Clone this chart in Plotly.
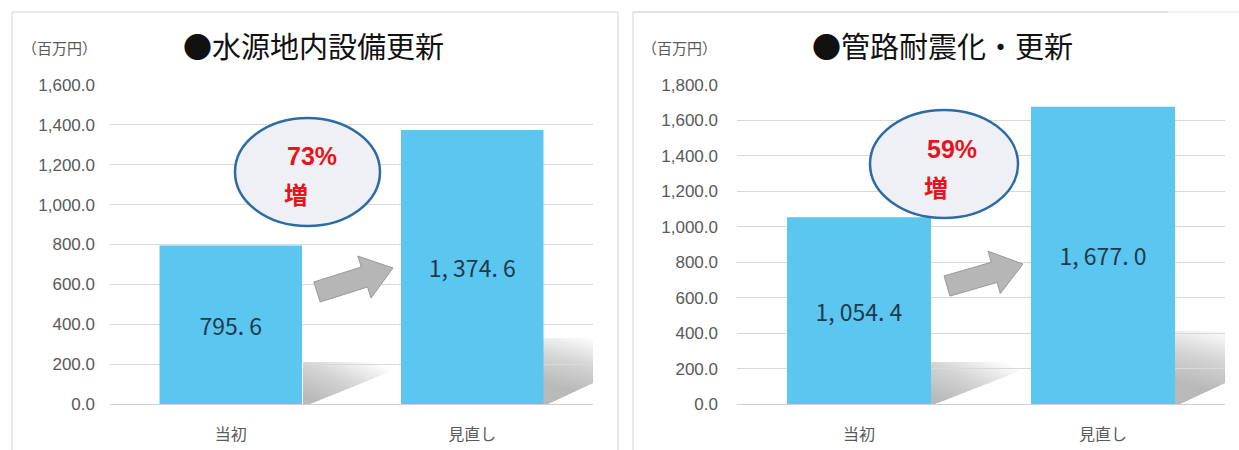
import math
import plotly.graph_objects as go

W, H = 1239, 450

# ---------------- data ----------------
categories = ["当初", "見直し"]
water_values = [795.6, 1374.6]      # ●水源地内設備更新
pipe_values = [1054.4, 1677.0]      # ●管路耐震化・更新
titles = ["●水源地内設備更新", "●管路耐震化・更新"]
unit_label = "（百万円）"
y_max = [1600, 1800]
y_dtick = 200
increase_word = "増"

BAR = "#5BC6F0"
GRID = "#D9D9D9"
TICK = "#595959"
JP = "Noto Sans CJK JP"


def jp_label(v):
    return f"{v:,.1f}".replace(",", ", ").replace(".", ". ")


def px(x):
    return x / W


def py(y):
    return 1 - y / H


fig = go.Figure()

series = [water_values, pipe_values]
for i, vals in enumerate(series):
    ax = "" if i == 0 else str(i + 1)
    fig.add_trace(go.Bar(
        x=categories, y=vals,
        text=[jp_label(v) for v in vals],
        textposition="inside", insidetextanchor="middle", textangle=0,
        textfont=dict(family=JP, size=23, color="#1F3A4D"),
        marker=dict(color=BAR, line=dict(width=0)),
        width=0.59, xaxis="x" + ax, yaxis="y" + ax,
        hoverinfo="skip", showlegend=False, cliponaxis=False,
    ))

ydom = [py(404), py(85)]
xdoms = [[px(110), px(593)], [px(737), px(1225)]]
standoffs = [14, 18]

layout = dict(
    width=W, height=H, margin=dict(l=0, r=0, t=0, b=0, pad=0, autoexpand=False),
    paper_bgcolor="white", plot_bgcolor="rgba(0,0,0,0)",
    showlegend=False,
)
for i in range(2):
    ax = "" if i == 0 else str(i + 1)
    layout["xaxis" + ax] = dict(
        domain=xdoms[i], anchor="y" + ax, type="category", automargin=False,
        showline=True, linecolor="#D0D0D0", linewidth=1,
        showgrid=False, zeroline=False, ticks="",
        tickfont=dict(family=JP, size=16, color=TICK),
        ticklabelstandoff=16, fixedrange=True,
    )
    layout["yaxis" + ax] = dict(
        domain=ydom, anchor="x" + ax, range=[0, y_max[i]], automargin=False,
        tick0=0, dtick=y_dtick, tickformat=",.1f",
        showgrid=True, gridcolor=GRID, gridwidth=1,
        zeroline=False, showline=False, ticks="",
        tickfont=dict(family="Liberation Sans", size=17, color=TICK),
        ticklabelstandoff=standoffs[i], fixedrange=True,
    )
fig.update_layout(**layout)

shapes = []
annotations = []


# ---------- panel frames ----------
def hline(x0, x1, y, color, w=1):
    shapes.append(dict(type="line", xref="paper", yref="paper",
                       x0=px(x0), x1=px(x1), y0=py(y), y1=py(y),
                       line=dict(color=color, width=w), layer="below"))


def vline(x, y0, y1, color, w=1):
    shapes.append(dict(type="line", xref="paper", yref="paper",
                       x0=px(x), x1=px(x), y0=py(y0), y1=py(y1),
                       line=dict(color=color, width=w), layer="below"))


hline(12, 618, 12, "#D4D4D4")
vline(12, 12, 450, "#D4D4D4")
vline(618, 12, 450, "#D4D4D4")
hline(633, 1168, 12, "#C4C4C4")
hline(1168, 1239, 12, "#E6E6E6")
vline(633, 12, 450, "#D4D4D4")


# ---------- shadows (layered half-plane clips to mimic a soft gradient) ----------
def clip_half(poly, d, t):
    """keep points p with p.d >= t"""
    out = []
    n = len(poly)
    for k in range(n):
        c = poly[k]
        nx_ = poly[(k + 1) % n]
        fc = c[0] * d[0] + c[1] * d[1] - t
        fn = nx_[0] * d[0] + nx_[1] * d[1] - t
        if fc >= 0:
            out.append(c)
        if (fc >= 0) != (fn >= 0):
            s = fc / (fc - fn)
            out.append((c[0] + s * (nx_[0] - c[0]), c[1] + s * (nx_[1] - c[1])))
    return out


def path_of(poly):
    return "M " + " L ".join(f"{px(x):.5f},{py(y):.5f}" for x, y in poly) + " Z"


def shadow(poly, d, layers=28, total=0.55, reach=0.9):
    L = math.hypot(*d)
    d = (d[0] / L, d[1] / L)
    vals = [p[0] * d[0] + p[1] * d[1] for p in poly]
    lo, hi = min(vals), max(vals)
    a = 1 - (1 - total) ** (1 / layers)
    for k in range(layers):
        t = lo + (hi - lo) * reach * k / layers
        sub = clip_half(poly, d, t)
        if len(sub) >= 3:
            shapes.append(dict(type="path", xref="paper", yref="paper",
                               path=path_of(sub),
                               fillcolor=f"rgba(120,120,120,{a:.4f})",
                               line=dict(width=0), layer="below"))


shadow([(303, 362), (375, 362), (392, 371), (310, 404), (303, 404)], (-0.45, 1), total=0.5)
shadow([(543, 338), (593, 338), (593, 383), (548, 404), (543, 404)], (-0.25, 1), total=0.5, reach=0.75)
shadow([(928, 362), (1005, 362), (1020, 371), (935, 404), (928, 404)], (-0.45, 1), total=0.5)
shadow([(1175, 331), (1225, 331), (1225, 383), (1180, 404), (1175, 404)], (-0.25, 1), total=0.5, reach=0.75)


# ---------- block arrows ----------
def arrow(tail, tip, w1=10.5, w2=22, head=30):
    dx, dy = tip[0] - tail[0], tip[1] - tail[1]
    L = math.hypot(dx, dy)
    ux, uy = dx / L, dy / L
    nx, ny = -uy, ux
    bx, by = tail[0] + ux * (L - head), tail[1] + uy * (L - head)
    pts = [
        (tail[0] - nx * w1, tail[1] - ny * w1),
        (bx - nx * w1, by - ny * w1),
        (bx - nx * w2, by - ny * w2),
        tip,
        (bx + nx * w2, by + ny * w2),
        (bx + nx * w1, by + ny * w1),
        (tail[0] + nx * w1, tail[1] + ny * w1),
    ]
    shapes.append(dict(type="path", xref="paper", yref="paper",
                       path=path_of(pts), fillcolor="#B6B6B6",
                       line=dict(color="#999999", width=1), layer="above"))


arrow((317, 292), (393, 268))
arrow((947, 286), (1023, 264))

# ---------- ellipses with increase rates ----------
ellipses = [(235, 118, 380, 226), (870, 110, 1018, 218)]
pct_pos = [(312, 156), (952, 149)]
word_pos = [(296, 193), (936, 186)]
for i, (x0, y0, x1, y1) in enumerate(ellipses):
    shapes.append(dict(type="circle", xref="paper", yref="paper",
                       x0=px(x0), x1=px(x1), y0=py(y1), y1=py(y0),
                       fillcolor="#EEF0F5",
                       line=dict(color="#2C6CA3", width=2.5), layer="above"))
    rate = series[i][1] / series[i][0] - 1
    annotations.append(dict(xref="paper", yref="paper", x=px(pct_pos[i][0]), y=py(pct_pos[i][1]),
                            text=f"<b>{rate * 100:.0f}%</b>", showarrow=False,
                            xanchor="center", yanchor="middle",
                            font=dict(family="Liberation Sans", size=25, color="#E8141B")))
    annotations.append(dict(xref="paper", yref="paper", x=px(word_pos[i][0]), y=py(word_pos[i][1]),
                            text=f"<b>{increase_word}</b>", showarrow=False,
                            xanchor="center", yanchor="middle",
                            font=dict(family=JP, size=24, color="#E8141B")))

# ---------- titles and unit labels ----------
title_x = [313, 943]
unit_x = [20, 640]
for i in range(2):
    annotations.append(dict(xref="paper", yref="paper", x=px(title_x[i]), y=py(45),
                            text=titles[i], showarrow=False, xanchor="center", yanchor="middle",
                            font=dict(family=JP, size=29, color="#111111")))
    annotations.append(dict(xref="paper", yref="paper", x=px(unit_x[i]), y=py(47),
                            text=unit_label, showarrow=False, xanchor="left", yanchor="middle",
                            font=dict(family=JP, size=15, color=TICK)))

fig.update_layout(shapes=shapes, annotations=annotations)
fig.write_html("out.html")
